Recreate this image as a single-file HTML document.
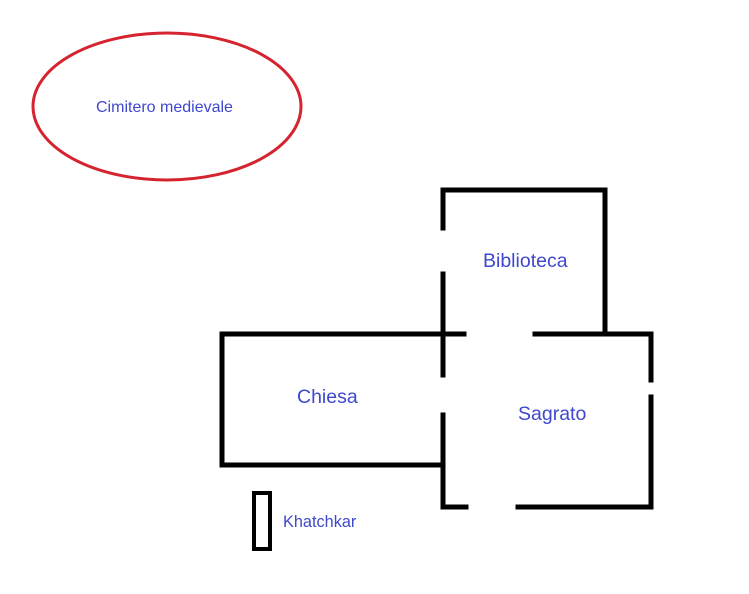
<!DOCTYPE html>
<html><head><meta charset="utf-8"><style>
html,body{margin:0;padding:0;background:#fff;width:749px;height:594px;overflow:hidden}
</style></head><body>
<svg width="749" height="594" viewBox="0 0 749 594" xmlns="http://www.w3.org/2000/svg">
<rect width="749" height="594" fill="#fff"/>
<ellipse cx="167" cy="106.5" rx="134" ry="73.5" fill="none" stroke="#d5232f" stroke-width="3"/>
<g stroke="#000" stroke-width="5" fill="none" stroke-linecap="square">
<polyline points="443,228 443,190 605,190 605,334"/>
<line x1="443" y1="274" x2="443" y2="375"/>
<line x1="443" y1="415" x2="443" y2="506"/>
<line x1="222" y1="334" x2="464" y2="334"/>
<line x1="535" y1="334" x2="651" y2="334"/>
<line x1="651" y1="334" x2="651" y2="380"/>
<line x1="651" y1="397" x2="651" y2="507"/>
<line x1="443" y1="507" x2="466" y2="507"/>
<line x1="518" y1="507" x2="651" y2="507"/>
<polyline points="222,334 222,465 443,465"/>
</g>
<rect x="254" y="493" width="16" height="56" fill="none" stroke="#000" stroke-width="4"/>
<g font-family="Liberation Sans, Arial, sans-serif" fill="#3f48cc">
<text x="96" y="112" font-size="16">Cimitero medievale</text>
<text x="483" y="267" font-size="19.5">Biblioteca</text>
<text x="297" y="403" font-size="19.5">Chiesa</text>
<text x="518" y="420" font-size="19.5">Sagrato</text>
<text x="283" y="527" font-size="16.3">Khatchkar</text>
</g>
</svg>
</body></html>
